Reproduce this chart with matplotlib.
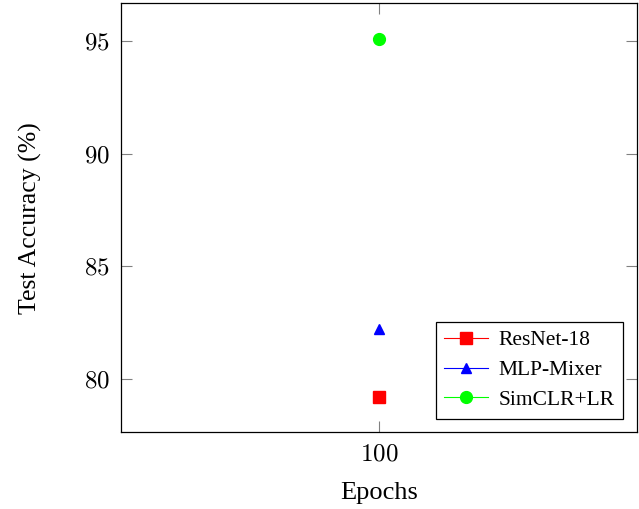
import matplotlib
matplotlib.use("Agg")
import matplotlib.pyplot as plt

epochs = [100]
series_names = ["ResNet-18", "MLP-Mixer", "SimCLR+LR"]
resnet18 = [79.2]
mlp_mixer = [82.2]
simclr_lr = [95.1]
y_ticks = [80, 85, 90, 95]
x_ticks = [100]

plt.rcParams['font.family'] = ['Liberation Serif', 'DejaVu Serif']
plt.rcParams['mathtext.fontset'] = 'cm'

fig = plt.figure(figsize=(6.39, 5.09), dpi=100)
ax = fig.add_axes([0.1894, 0.1503, 0.9969 - 0.1894, 0.9941 - 0.1503])

styles = [
    dict(color='#ff0000', marker='s', markersize=8.5),
    dict(color='#0000ff', marker='^', markersize=7.5),
    dict(color='#00ff00', marker='o', markersize=8.5),
]
for name, vals, st in zip(series_names, [resnet18, mlp_mixer, simclr_lr], styles):
    ax.plot(epochs, vals, linestyle='-', linewidth=0.8, label=name, **st)

ax.set_xlim(0, 200)
ax.set_ylim(77.6, 96.7)
ax.set_xticks(x_ticks)
ax.set_xticklabels([f"${v}$" for v in x_ticks], fontsize=18)
ax.set_yticks(y_ticks)
ax.set_yticklabels([f"${v}$" for v in y_ticks], fontsize=18)
ax.tick_params(direction='in', length=8, width=0.8, color='#808080',
               left=True, right=True, top=True, bottom=True, pad=8)
for s in ax.spines.values():
    s.set_linewidth(0.9)
    s.set_color('black')

ax.set_xlabel("Epochs", fontsize=19, labelpad=12)
ax.set_ylabel("Test Accuracy (%)", fontsize=18.5, labelpad=30)

leg = ax.legend(loc='lower right', fontsize=15.5, frameon=True, fancybox=False,
                edgecolor='black', framealpha=1, handlelength=2.0,
                borderaxespad=0.65, labelspacing=0.45, borderpad=0.4,
                handletextpad=0.5)
leg.get_frame().set_linewidth(0.9)

fig.savefig("out.png", dpi=100)
